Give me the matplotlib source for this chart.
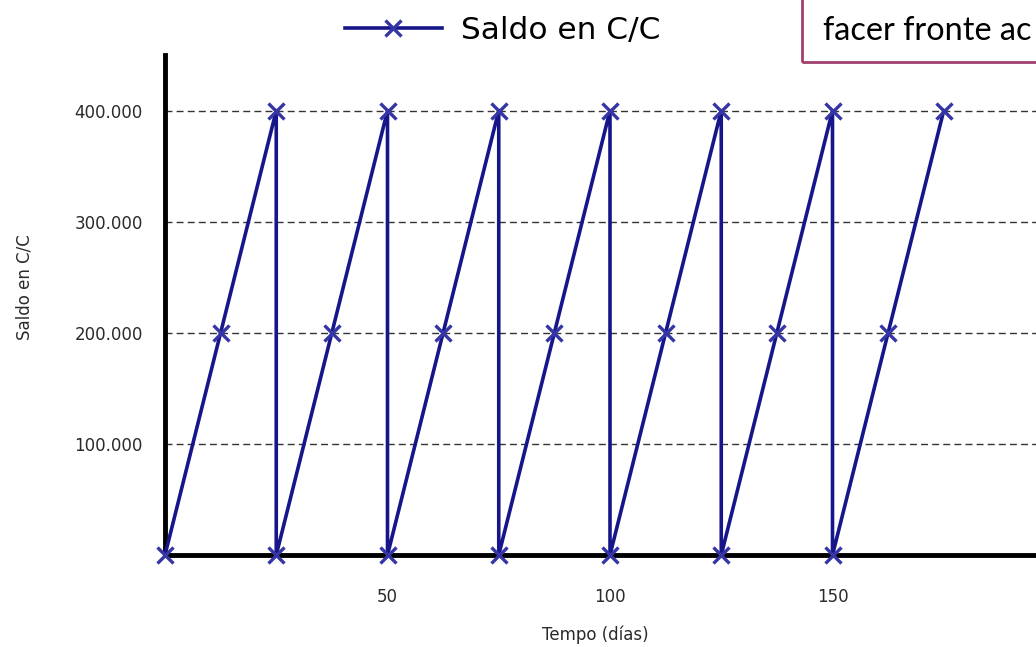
import matplotlib
matplotlib.use("Agg")
import matplotlib.pyplot as plt
from matplotlib.patches import Rectangle
from matplotlib.ticker import FuncFormatter

days = [0, 12.5, 25, 25, 37.5, 50, 50, 62.5, 75, 75, 87.5, 100, 100,
        112.5, 125, 125, 137.5, 150, 150, 162.5, 175]
saldo = [0, 200000, 400000, 0, 200000, 400000, 0, 200000, 400000, 0, 200000, 400000, 0,
         200000, 400000, 0, 200000, 400000, 0, 200000, 400000]
x_ticks = [50, 100, 150]
y_ticks = [100000, 200000, 300000, 400000]
series_name = "Saldo en C/C"
x_label = "Tempo (días)"
y_label = "Saldo en C/C"
box_text = "facer fronte ac"

fig = plt.figure(figsize=(10.36, 6.47), dpi=100)
W, H = 1036, 647
ax = fig.add_axes([165 / W, (H - 555) / H, (W - 165) / W, 500 / H])

line, = ax.plot(days, saldo, color="#16168a", lw=2.6, marker="x", ms=12,
                mew=2.4, mec="#3535a5", label=series_name, zorder=3, clip_on=False)

ax.set_xlim(0, (W - 165) / 4.45)
ax.set_ylim(0, 450000)
ax.set_xticks(x_ticks)
ax.set_yticks(y_ticks)
ax.yaxis.set_major_formatter(FuncFormatter(lambda v, p: f"{int(v):,}".replace(",", ".")))
ax.tick_params(length=0, labelsize=12, colors="#2a2a2a")
ax.tick_params(axis="x", pad=24)
ax.tick_params(axis="y", pad=16)

for s in ["top", "right"]:
    ax.spines[s].set_visible(False)
for s in ["left", "bottom"]:
    ax.spines[s].set_linewidth(3.5)
    ax.spines[s].set_color("black")

ax.yaxis.grid(True, linestyle=(0, (5, 3)), color="#333333", lw=1.0)
ax.set_axisbelow(True)

ax.set_xlabel(x_label, fontsize=12, color="#2a2a2a")
ax.xaxis.set_label_coords(0.494, -0.14)
ax.set_ylabel(y_label, fontsize=12, color="#2a2a2a")
ax.yaxis.set_label_coords(-0.151, 0.536)

leg = fig.legend(handles=[line], loc="center left", bbox_to_anchor=(345 / W, 1 - 30 / H),
                 frameon=False, fontsize=22.5, handlelength=3.1, handletextpad=0.6,
                 borderpad=0, borderaxespad=0)

fig.patches.append(Rectangle((802 / W, 1 - 62 / H), 0.5, 0.2, transform=fig.transFigure,
                             fill=False, edgecolor="#a0406e", lw=2.0))
fig.text(823 / W, 1 - 40 / H, box_text, fontsize=23.3, family="Lato", color="black",
         va="baseline", ha="left")

fig.savefig("out.png", dpi=100)
